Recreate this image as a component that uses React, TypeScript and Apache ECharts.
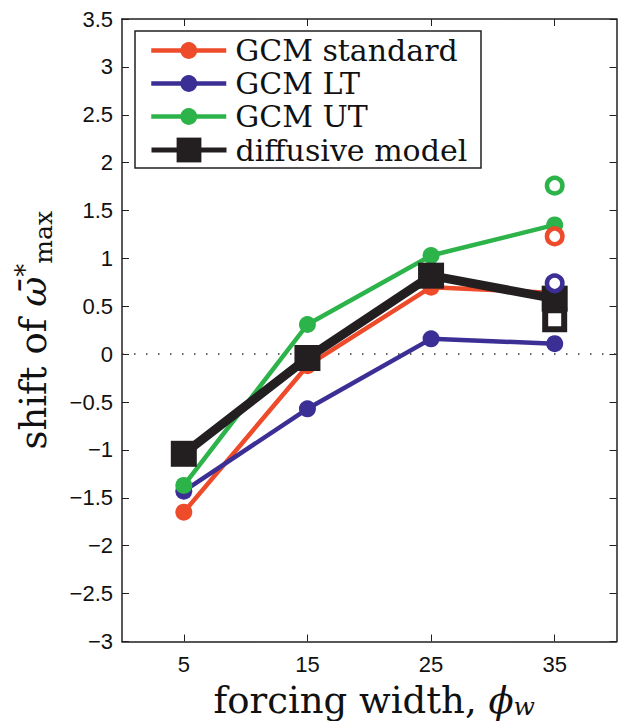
import React, { useEffect, useRef } from "react";
import * as echarts from "echarts";

const xValues = [5, 15, 25, 35];
const xTicks = [5, 15, 25, 35];
const gcmStandard = [-1.65, -0.12, 0.7, 0.64];
const gcmLT = [-1.43, -0.57, 0.16, 0.11];
const gcmUT = [-1.37, 0.31, 1.03, 1.35];
const diffusive = [-1.04, -0.04, 0.82, 0.58];
const openX = 35;
const gcmStandardOpen = 1.23;
const gcmLTOpen = 0.74;
const gcmUTOpen = 1.76;
const diffusiveOpen = 0.36;
const seriesNames = ["GCM standard", "GCM LT", "GCM UT", "diffusive model"];

const RED = "#EE4B2B";
const BLUE = "#3B2F95";
const GREEN = "#2CB34A";
const BLACK = "#231F20";
const SERIF = "DejaVu Serif";
const SANS = "Liberation Sans";
const INK = "#111";

export default function App() {
  const ref = useRef<HTMLDivElement>(null);
  useEffect(() => {
    const chart = echarts.init(ref.current!, null, { renderer: "svg" });
    const pairs = (arr: number[]) => xValues.map((x, i) => [x, arr[i]]);
    const lineSeries = (name: string, data: number[], color: string, extra: any = {}) => ({
      name,
      type: "line",
      data: pairs(data),
      symbol: "circle",
      symbolSize: 17,
      showSymbol: true,
      lineStyle: { width: 4.5, color },
      itemStyle: { color },
      emphasis: { disabled: true },
      silent: true,
      ...extra,
    });
    const openSeries = (name: string, v: number, color: string, symbol: string, size: number, bw: number) => ({
      name,
      type: "scatter",
      data: [[openX, v]],
      symbol,
      symbolSize: size,
      itemStyle: { color: "#fff", borderColor: color, borderWidth: bw, opacity: 1 },
      emphasis: { disabled: true },
      silent: true,
      z: 5,
    });
    const axisLine = { show: true, onZero: false, lineStyle: { color: BLACK, width: 1.5 } };
    const tick = { show: true, inside: true, length: 7, lineStyle: { color: BLACK, width: 1 } };
    const main = { fontFamily: SERIF, fontSize: 37, lineHeight: 44, color: INK };
    const mainX = { fontFamily: SERIF, fontSize: 37, lineHeight: 37, color: INK };
    const option: any = {
      animation: false,
      grid: { left: 122, top: 19, right: 1.5, bottom: 79.5, containLabel: false, outerBoundsMode: "none" },
      xAxis: [
        {
          type: "value",
          min: 0,
          max: 40,
          axisLine,
          splitLine: { show: false },
          axisTick: { ...tick, customValues: xTicks },
          axisLabel: { show: true, customValues: xTicks, fontFamily: SANS, fontSize: 22, color: INK, margin: 12 },
          name: "{a|forcing width, }{b|\u03D5}{c|w}",
          nameLocation: "middle",
          nameGap: 40,
          nameTextStyle: {
            padding: [0, 0, 0, 10],
            rich: {
              a: mainX,
              b: { ...mainX, fontStyle: "italic" },
              c: { fontFamily: SERIF, fontStyle: "italic", fontSize: 25, lineHeight: 21, color: INK, verticalAlign: "bottom" },
            },
          },
        },
        {
          type: "value",
          position: "top",
          min: 0,
          max: 40,
          axisLine,
          splitLine: { show: false },
          axisTick: { ...tick, customValues: xTicks },
          axisLabel: { show: false },
        },
      ],
      yAxis: [
        {
          type: "value",
          min: -3,
          max: 3.5,
          interval: 0.5,
          axisLine,
          splitLine: { show: false },
          axisTick: tick,
          axisLabel: {
            fontFamily: SANS,
            fontSize: 22,
            color: INK,
            margin: 9,
            formatter: (v: number) => (v < 0 ? "\u2212" + Math.abs(v) : String(v)),
          },
          name: "{a|shift of }{b|\u03C9\u0304}{s|*}{m|max}",
          nameLocation: "middle",
          nameRotate: 90,
          nameGap: 66.5,
          nameTextStyle: {
            rich: {
              a: main,
              b: { ...main, fontStyle: "italic" },
              s: { fontFamily: SERIF, fontSize: 26, lineHeight: 26, color: INK, verticalAlign: "top" },
              m: { fontFamily: SERIF, fontSize: 25, lineHeight: 28, color: INK, verticalAlign: "bottom" },
            },
          },
        },
        {
          type: "value",
          position: "right",
          min: -3,
          max: 3.5,
          interval: 0.5,
          axisLine,
          splitLine: { show: false },
          axisTick: tick,
          axisLabel: { show: false },
        },
      ],
      legend: [
        {
          data: seriesNames.slice(0, 3),
          orient: "vertical",
          left: 149,
          top: 34,
          padding: 0,
          itemGap: 0,
          itemWidth: 75,
          itemHeight: 21,
          selectedMode: false,
          z: 6,
          lineStyle: { width: 4.5 },
          textStyle: { fontFamily: SERIF, fontSize: 30, color: INK, lineHeight: 33, padding: [0, 0, 0, 4] },
        },
        {
          data: seriesNames.slice(3),
          orient: "vertical",
          left: 149,
          top: 133.5,
          padding: 0,
          itemGap: 0,
          itemWidth: 75,
          itemHeight: 31,
          selectedMode: false,
          z: 6,
          lineStyle: { width: 5 },
          textStyle: { fontFamily: SERIF, fontSize: 30, color: INK, lineHeight: 33, padding: [0, 0, 0, 4] },
        },
      ],
      graphic: [
        {
          type: "rect",
          z: 5,
          shape: { x: 135, y: 31, width: 346, height: 137 },
          style: { fill: "#fff", stroke: BLACK, lineWidth: 1.5 },
          silent: true,
        },
      ],
      series: [
        lineSeries(seriesNames[0], gcmStandard, RED, {
          markLine: {
            silent: true,
            symbol: ["none", "none"],
            label: { show: false },
            lineStyle: { color: "#333", width: 1.5, type: [1.5, 10.5] },
            data: [{ yAxis: 0 }],
            z: 1,
          },
        }),
        lineSeries(seriesNames[1], gcmLT, BLUE),
        lineSeries(seriesNames[2], gcmUT, GREEN),
        lineSeries(seriesNames[3], diffusive, BLACK, { symbol: "rect", symbolSize: 26, lineStyle: { width: 9, color: BLACK } }),
        openSeries("GCM standard (alt)", gcmStandardOpen, RED, "circle", 15.5, 4.5),
        openSeries("GCM LT (alt)", gcmLTOpen, BLUE, "circle", 15.5, 4.5),
        openSeries("GCM UT (alt)", gcmUTOpen, GREEN, "circle", 15.5, 4.5),
        openSeries("diffusive model (alt)", diffusiveOpen, BLACK, "rect", 19, 6),
      ],
    };
    chart.setOption(option);
    return () => chart.dispose();
  }, []);
  return (
    <div
      ref={ref}
      style={{ position: "absolute", left: 0, top: 0, width: 618, height: 721, background: "#fff" }}
    />
  );
}
